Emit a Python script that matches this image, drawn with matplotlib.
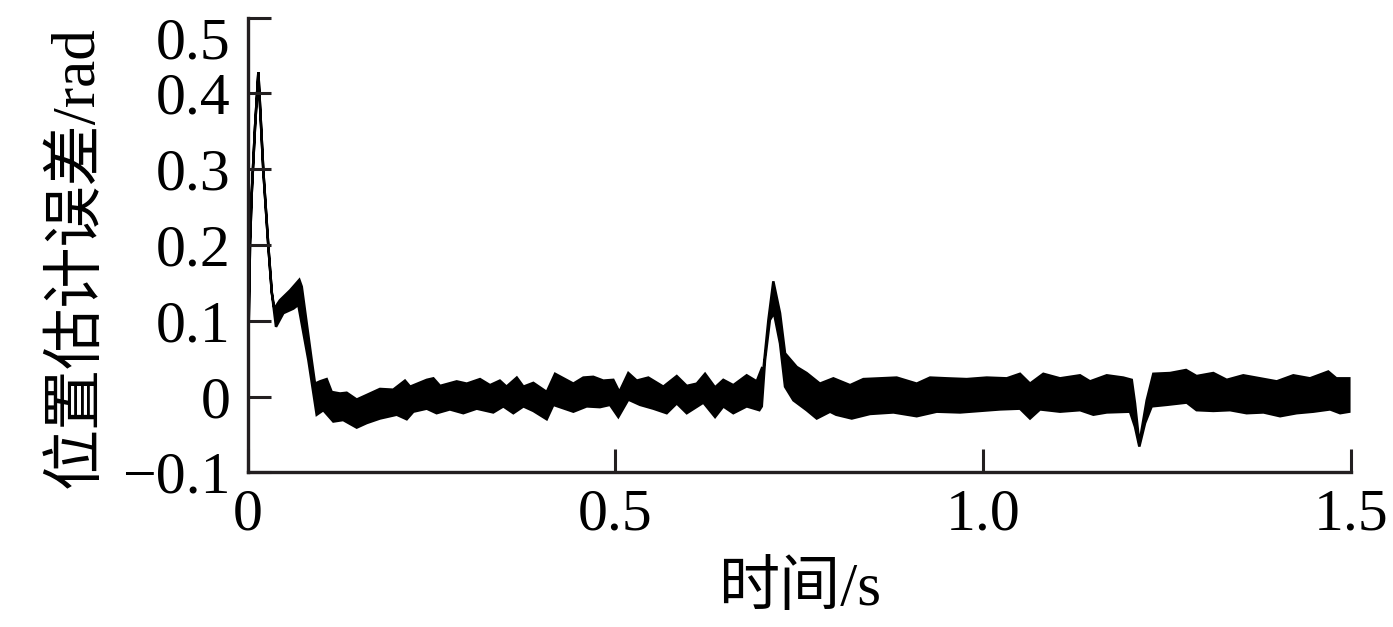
import numpy as np
import matplotlib
matplotlib.use("Agg")
from matplotlib import pyplot as plt

# upper edge of the error band (time s, error rad)
t_upper = [0.0, 0.0034, 0.0057, 0.0102, 0.0147, 0.0215, 0.0283, 0.033, 0.0365, 0.044,
           0.0578, 0.0704, 0.0737, 0.0872, 0.0917, 0.0985, 0.1076, 0.1144, 0.1257, 0.1348,
           0.1484, 0.162, 0.180, 0.198, 0.214, 0.221, 0.2436, 0.2526, 0.2617, 0.2843,
           0.298, 0.316, 0.3296, 0.343, 0.352, 0.366, 0.375, 0.3885, 0.4067, 0.418,
           0.4429, 0.4564, 0.470, 0.4836, 0.4972, 0.5054, 0.5176, 0.529, 0.5448, 0.5652,
           0.5834, 0.597, 0.6106, 0.6219, 0.6355, 0.6467, 0.6603, 0.6785, 0.6921, 0.699,
           0.7011, 0.708, 0.7147, 0.7238, 0.7306, 0.7465, 0.760, 0.778, 0.7963, 0.819,
           0.8371, 0.860, 0.8824, 0.9096, 0.9277, 0.9504, 0.9776, 1.0048, 1.032, 1.050,
           1.0636, 1.0817, 1.1044, 1.1316, 1.1452, 1.1679, 1.1904, 1.2019, 1.2063, 1.2122,
           1.2222, 1.2312, 1.254, 1.2757, 1.290, 1.3128, 1.331, 1.3535, 1.3763, 1.399,
           1.4215, 1.4442, 1.469, 1.480, 1.4976]
v_upper = [0.0, 0.2025, 0.268, 0.356, 0.428, 0.297, 0.198, 0.137, 0.116, 0.127,
           0.140, 0.154, 0.145, 0.048, 0.017, 0.020, 0.023, 0.006, 0.004, 0.005,
           -0.004, 0.002, 0.010, 0.009, 0.021, 0.013, 0.022, 0.024, 0.014, 0.020,
           0.017, 0.023, 0.015, 0.021, 0.013, 0.025, 0.013, 0.018, 0.006, 0.030,
           0.017, 0.025, 0.026, 0.021, 0.022, 0.006, 0.031, 0.021, 0.025, 0.013,
           0.027, 0.014, 0.017, 0.030, 0.012, 0.022, 0.015, 0.028, 0.020, 0.037,
           0.035, 0.101, 0.152, 0.110, 0.057, 0.039, 0.031, 0.017, 0.024, 0.015,
           0.023, 0.024, 0.025, 0.017, 0.025, 0.024, 0.023, 0.025, 0.024, 0.030,
           0.017, 0.030, 0.024, 0.028, 0.020, 0.028, 0.025, 0.022, -0.009, -0.062,
           -0.005, 0.030, 0.031, 0.035, 0.027, 0.031, 0.022, 0.028, 0.024, 0.020,
           0.028, 0.024, 0.033, 0.024, 0.024]

# lower edge of the error band
t_lower = [0.0, 0.0034, 0.0057, 0.0102, 0.0147, 0.0215, 0.0283, 0.033, 0.0387, 0.0487,
           0.0623, 0.069, 0.0827, 0.094, 0.103, 0.1166, 0.130, 0.1484, 0.162, 0.180,
           0.2028, 0.2164, 0.2254, 0.2436, 0.257, 0.275, 0.2933, 0.3115, 0.334, 0.3477,
           0.3613, 0.375, 0.3885, 0.4067, 0.4157, 0.4429, 0.461, 0.479, 0.4927, 0.504,
           0.5176, 0.5335, 0.5516, 0.5698, 0.5834, 0.597, 0.6196, 0.6355, 0.6467, 0.6603,
           0.6785, 0.6957, 0.699, 0.7034, 0.710, 0.7156, 0.7238, 0.7306, 0.742, 0.760,
           0.7737, 0.7918, 0.800, 0.8213, 0.8461, 0.878, 0.9096, 0.9368, 0.9685, 0.9957,
           1.0228, 1.050, 1.0636, 1.0772, 1.1044, 1.1316, 1.1497, 1.1679, 1.1995, 1.2063,
           1.2122, 1.220, 1.229, 1.2494, 1.2766, 1.290, 1.3128, 1.3355, 1.358, 1.381,
           1.4035, 1.426, 1.4487, 1.4715, 1.4851, 1.4976]
v_lower = [0.0, 0.2025, 0.268, 0.356, 0.428, 0.297, 0.198, 0.137, 0.092, 0.110,
           0.116, 0.121, 0.048, -0.024, -0.018, -0.033, -0.031, -0.041, -0.035, -0.029,
           -0.024, -0.030, -0.020, -0.016, -0.022, -0.017, -0.022, -0.016, -0.021, -0.013,
           -0.022, -0.013, -0.019, -0.030, -0.011, -0.020, -0.013, -0.014, -0.011, -0.027,
           -0.004, -0.011, -0.016, -0.022, -0.009, -0.022, -0.008, -0.027, -0.013, -0.022,
           -0.013, -0.018, -0.013, 0.048, 0.101, 0.110, 0.070, 0.013, -0.005, -0.018,
           -0.029, -0.020, -0.024, -0.029, -0.023, -0.021, -0.026, -0.020, -0.021, -0.019,
           -0.017, -0.016, -0.029, -0.017, -0.020, -0.018, -0.024, -0.021, -0.020, -0.040,
           -0.066, -0.035, -0.013, -0.011, -0.008, -0.018, -0.019, -0.018, -0.022, -0.021,
           -0.026, -0.022, -0.020, -0.017, -0.022, -0.020]

x_ticks = [0, 0.5, 1.0, 1.5]
x_labels = ["0", "0.5", "1.0", "1.5"]
y_ticks = [-0.1, 0, 0.1, 0.2, 0.3, 0.4, 0.5]
y_labels = ["\u22120.1", "0", "0.1", "0.2", "0.3", "0.4", "0.5"]

fonts = ["Liberation Serif", "Noto Sans CJK SC", "DejaVu Sans"]
plt.rcParams["font.family"] = fonts
axc = "#231f20"

fig = plt.figure(figsize=(13.93, 6.27), dpi=100)
ax = fig.add_axes([0.1777, 0.2467, 0.7922, 0.7253])

# band outline: upper edge forwards, lower edge backwards
poly_t = np.concatenate([t_upper, t_lower[::-1]])
poly_v = np.concatenate([v_upper, v_lower[::-1]])
ax.fill(poly_t, poly_v, facecolor="black", edgecolor="black", linewidth=1.8)

ax.set_xlim(0, 1.5)
ax.set_ylim(-0.1, 0.5)
ax.set_xticks(x_ticks)
ax.set_xticklabels(x_labels)
ax.set_yticks(y_ticks)
ax.set_yticklabels(y_labels)

for s in ["top", "right"]:
    ax.spines[s].set_visible(False)
for s in ["left", "bottom"]:
    ax.spines[s].set_linewidth(2.4)
    ax.spines[s].set_color(axc)

ax.tick_params(axis="both", direction="in", length=16.5, width=2.2, color=axc,
               labelsize=43, labelcolor="black")
ax.tick_params(axis="x", pad=12)
ax.tick_params(axis="y", pad=12)
# keep the top label inside the figure
ax.get_yticklabels()[-1].set_verticalalignment("top")

ax.set_xlabel("时间/s", fontsize=44, labelpad=14)
ax.set_ylabel("位置估计误差/rad", fontsize=44)
ax.yaxis.set_label_coords(-0.129, 0.473)

fig.savefig("out.png", dpi=100)
